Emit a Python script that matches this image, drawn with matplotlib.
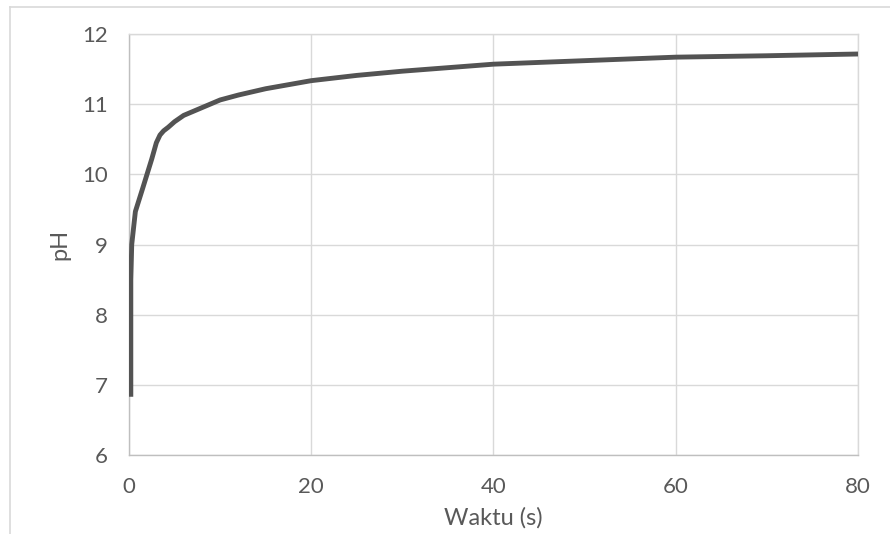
import matplotlib
matplotlib.use("Agg")
import matplotlib.pyplot as plt
from matplotlib.lines import Line2D

# Data
waktu = [0.2, 0.2, 0.3, 0.7, 1.5, 2.5, 3.0, 3.4, 3.8, 4.3, 5, 6, 8, 10, 12, 15, 20, 25, 30, 40, 50, 60, 70, 80]
ph = [6.83, 8.5, 9.0, 9.47, 9.8, 10.22, 10.45, 10.56, 10.62, 10.67, 10.75, 10.84, 10.95, 11.06,
      11.13, 11.22, 11.335, 11.41, 11.47, 11.57, 11.62, 11.67, 11.69, 11.715]
x_ticks = [0, 20, 40, 60, 80]
y_ticks = [6, 7, 8, 9, 10, 11, 12]

plt.rcParams['font.family'] = ['Lato', 'DejaVu Sans']

W, H = 890, 534
fig = plt.figure(figsize=(W / 100, H / 100), dpi=100)
left, right, top, bottom = 129, 858, 34, 455
ax = fig.add_axes([left / W, 1 - bottom / H, (right - left) / W, (bottom - top) / H])

ax.plot(waktu, ph, color='#535353', lw=3.5, solid_capstyle='butt', solid_joinstyle='round', zorder=3)

ax.set_xlim(0, 80)
ax.set_ylim(6, 12)
ax.set_xticks(x_ticks)
ax.set_yticks(y_ticks)
ax.grid(True, color='#d9d9d9', lw=1.0)
ax.set_axisbelow(True)
for s in ['top', 'right']:
    ax.spines[s].set_color('#d9d9d9')
for s in ['left', 'bottom']:
    ax.spines[s].set_color('#bfbfbf')
for s in ax.spines.values():
    s.set_linewidth(1.0)

ax.tick_params(axis='both', length=0, labelsize=16, labelcolor='#595959')
ax.tick_params(axis='y', pad=15)
ax.tick_params(axis='x', pad=16)

ax.set_xlabel('Waktu (s)', fontsize=17, color='#595959', labelpad=7)
ax.set_ylabel('pH', fontsize=17, color='#595959', labelpad=9)

# outer chart border (partially cropped in the reference)
fig.add_artist(Line2D([10 / W, 10 / W], [0, 1 - 7 / H], transform=fig.transFigure,
                      color='#d9d9d9', lw=1.2))
fig.add_artist(Line2D([10 / W, 1], [1 - 7 / H, 1 - 7 / H], transform=fig.transFigure,
                      color='#d9d9d9', lw=1.2))

fig.savefig('out.png', dpi=100, facecolor='white')
